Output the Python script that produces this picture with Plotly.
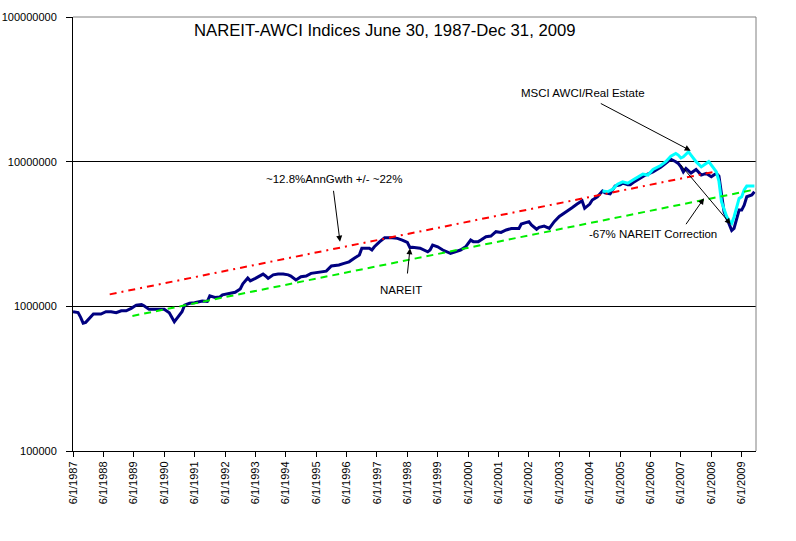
import plotly.graph_objects as go

# ---------------- data ----------------
nareit_dates = [
    "1987-06-01", "1987-07-01", "1987-08-01", "1987-09-01", "1987-10-01", "1987-11-01", "1987-12-01",
    "1988-02-01", "1988-05-01", "1988-07-01", "1988-09-01", "1988-11-01",
    "1989-01-01", "1989-03-01", "1989-05-01", "1989-07-01", "1989-09-01", "1989-10-01", "1989-12-01",
    "1990-03-01", "1990-06-01", "1990-08-01", "1990-10-01", "1990-11-01",
    "1991-01-01", "1991-02-01", "1991-04-01", "1991-06-01", "1991-09-01", "1991-11-01", "1991-12-01",
    "1992-02-01", "1992-04-01", "1992-05-01", "1992-08-01", "1992-10-01", "1992-12-01",
    "1993-01-01", "1993-03-01", "1993-04-01", "1993-06-01", "1993-09-01", "1993-10-01", "1993-11-01",
    "1994-01-01", "1994-03-01", "1994-05-01", "1994-07-01", "1994-08-01", "1994-10-01", "1994-12-01",
    "1995-02-01", "1995-04-01", "1995-08-01", "1995-10-01", "1995-12-01",
    "1996-03-01", "1996-05-01", "1996-07-01", "1996-09-01", "1996-11-01", "1996-12-01",
    "1997-03-01", "1997-04-01", "1997-05-01", "1997-07-01", "1997-09-01", "1997-12-01",
    "1998-02-01", "1998-04-01", "1998-06-01", "1998-07-01", "1998-08-01", "1998-11-01",
    "1999-02-01", "1999-03-01", "1999-04-01", "1999-06-01", "1999-08-01", "1999-11-01",
    "2000-01-01", "2000-03-01", "2000-05-01", "2000-07-01", "2000-08-01", "2000-10-01", "2000-11-01",
    "2001-01-01", "2001-03-01", "2001-05-01", "2001-07-01", "2001-09-01", "2001-11-01",
    "2002-02-01", "2002-03-01", "2002-06-01", "2002-07-01", "2002-09-01", "2002-10-01", "2002-12-01",
    "2003-02-01", "2003-04-01", "2003-06-01", "2003-09-01", "2003-11-01",
    "2004-01-01", "2004-03-01", "2004-04-01", "2004-06-01", "2004-07-01", "2004-09-01", "2004-11-01", "2004-12-01",
    "2005-02-01", "2005-03-01", "2005-04-01", "2005-06-01", "2005-07-01", "2005-09-01", "2005-10-01", "2005-11-01",
    "2006-02-01", "2006-04-01", "2006-07-01", "2006-10-01", "2006-12-01",
    "2007-02-01", "2007-04-01", "2007-05-01", "2007-06-01", "2007-07-01", "2007-08-01", "2007-10-01", "2007-12-01",
    "2008-02-01", "2008-04-01", "2008-06-01", "2008-07-01", "2008-08-01", "2008-09-01", "2008-10-01",
    "2008-11-01", "2008-12-01",
    "2009-01-01", "2009-02-01", "2009-03-01", "2009-04-01", "2009-05-01", "2009-06-01", "2009-07-01",
    "2009-08-01", "2009-10-01", "2009-11-01",
]
nareit_values = [
    918000, 915000, 905000, 840000, 765000, 775000, 813000,
    885000, 885000, 918000, 918000, 903000,
    932000, 932000, 968000, 1020000, 1030000, 1010000, 953000,
    953000, 953000, 903000, 783000, 826000,
    918000, 1020000, 1050000, 1060000, 1090000, 1080000, 1180000,
    1150000, 1160000, 1200000, 1230000, 1250000, 1320000,
    1430000, 1570000, 1500000, 1560000, 1670000, 1620000, 1560000,
    1650000, 1670000, 1670000, 1650000, 1620000, 1520000, 1600000,
    1620000, 1690000, 1730000, 1750000, 1900000,
    1930000, 1980000, 2030000, 2150000, 2260000, 2520000,
    2520000, 2450000, 2580000, 2790000, 2980000, 2980000,
    2950000, 2870000, 2770000, 2550000, 2560000, 2520000,
    2380000, 2450000, 2650000, 2580000, 2450000, 2320000,
    2380000, 2450000, 2580000, 2870000, 2800000, 2800000, 2870000,
    3030000, 3060000, 3280000, 3240000, 3370000, 3450000,
    3450000, 3710000, 3850000, 3650000, 3410000, 3520000, 3590000,
    3460000, 3850000, 4180000, 4510000, 4800000,
    5090000, 5370000, 4760000, 5090000, 5430000, 5720000, 6270000, 6080000,
    6000000, 6370000, 6780000, 6920000, 7100000, 6920000, 6920000, 7140000,
    7670000, 8080000, 8510000, 9140000, 9730000,
    10400000, 10000000, 9730000, 9200000, 8500000, 8980000, 8340000, 8840000,
    8080000, 8300000, 7880000, 8100000, 8300000, 7930000, 5800000,
    4500000, 4100000,
    3750000, 3350000, 3460000, 3990000, 4630000, 4630000, 5010000,
    5720000, 5880000, 6190000,
]

msci_dates = [
    "2004-11-01", "2005-01-01", "2005-03-01", "2005-05-01", "2005-07-01", "2005-09-01", "2005-11-01",
    "2006-01-01", "2006-03-01", "2006-05-01", "2006-07-01", "2006-10-01", "2006-12-01",
    "2007-02-01", "2007-04-01", "2007-05-01", "2007-06-01", "2007-07-01", "2007-09-01", "2007-10-01", "2007-12-01",
    "2008-02-01", "2008-04-01", "2008-05-01", "2008-07-01", "2008-08-01", "2008-09-01", "2008-10-01",
    "2008-11-01", "2008-12-01",
    "2009-01-01", "2009-02-01", "2009-03-01", "2009-04-01", "2009-05-01", "2009-06-01", "2009-07-01",
    "2009-08-01", "2009-09-01", "2009-10-01", "2009-11-01",
]
msci_values = [
    6270000, 6190000, 6430000, 6990000, 7250000, 7100000, 7480000,
    7880000, 8200000, 8080000, 8840000, 9400000, 10000000,
    10900000, 11400000, 11100000, 10600000, 10800000, 11700000, 11100000, 10000000,
    9200000, 9730000, 10000000, 9000000, 8500000, 7300000, 5300000,
    4700000, 4200000,
    3900000, 3750000, 4150000, 4850000, 5570000, 5720000, 6370000,
    6780000, 6780000, 6780000, 6780000,
]

upper_trend_dates = ["1988-08-15", "2008-07-01"]
upper_trend_values = [1210000, 8500000]

lower_trend_dates = ["1989-05-15", "2009-11-20"]
lower_trend_values = [858000, 6440000]

tick_years = list(range(1987, 2010))
tick_dates = [f"{y}-06-01" for y in tick_years]
tick_labels = [f"6/1/{y}" for y in tick_years]

y_tickvals = [100000, 1000000, 10000000, 100000000]
y_ticktext = ["100000", "1000000", "10000000", "100000000"]

# ---------------- figure ----------------
FONT = "Liberation Sans, Arial, sans-serif"

fig = go.Figure()
fig.add_trace(go.Scatter(x=nareit_dates, y=nareit_values, mode="lines",
                         line=dict(color="#000080", width=3), name="NAREIT"))
fig.add_trace(go.Scatter(x=msci_dates, y=msci_values, mode="lines",
                         line=dict(color="#00FFFF", width=3), name="MSCI AWCI/Real Estate"))
fig.add_trace(go.Scatter(x=upper_trend_dates, y=upper_trend_values, mode="lines",
                         line=dict(color="#FF0000", width=2, dash="7px,5px,2px,5px"), name="upper"))
fig.add_trace(go.Scatter(x=lower_trend_dates, y=lower_trend_values, mode="lines",
                         line=dict(color="#00EE00", width=2, dash="7px,5px"), name="lower"))

X0, X1, Y0, Y1 = 73, 756, 17, 451


def px(x):
    return (x - X0) / (X1 - X0)


def py(y):
    return (Y1 - y) / (Y1 - Y0)


annotations = []


def text_ann(text, x, y, size=11.5):
    annotations.append(dict(text=text, x=px(x), y=py(y), xref="paper", yref="paper",
                            showarrow=False, xanchor="center", yanchor="middle",
                            font=dict(family=FONT, size=size, color="black")))


def arrow_ann(hx, hy, tx, ty):
    annotations.append(dict(text="", x=px(hx), y=py(hy), xref="paper", yref="paper",
                            ax=tx - hx, ay=ty - hy, axref="pixel", ayref="pixel",
                            showarrow=True, arrowhead=2, arrowsize=1.2, arrowwidth=1,
                            arrowcolor="black", standoff=0, startstandoff=0))


text_ann("NAREIT-AWCI Indices June 30, 1987-Dec 31, 2009", 385, 31, size=16.7)
text_ann("~12.8%AnnGwth +/- ~22%", 334, 179.3)
text_ann("NAREIT", 401, 290)
text_ann("MSCI AWCI/Real Estate", 583.3, 93.3)
text_ann("-67% NAREIT Correction", 652.7, 234.3)

arrow_ann(340, 241.7, 333.3, 189.3)
arrow_ann(410, 248.3, 407.3, 275)
arrow_ann(690.7, 150.7, 599.3, 102.7)
arrow_ann(704, 198.3, 685, 225.7)
arrow_ann(730.7, 224.3, 679.3, 163.3)

fig.update_layout(
    width=796, height=541,
    margin=dict(l=X0, r=796 - X1, t=Y0, b=541 - Y1, pad=0, autoexpand=False),
    paper_bgcolor="white", plot_bgcolor="white",
    showlegend=False,
    font=dict(family=FONT, size=11, color="black"),
    annotations=annotations,
    shapes=[
        dict(type="line", xref="paper", yref="paper", x0=0, x1=1, y0=1, y1=1,
             line=dict(color="#808080", width=1), layer="above"),
        dict(type="line", xref="paper", yref="paper", x0=1, x1=1, y0=0, y1=1,
             line=dict(color="#808080", width=1), layer="above"),
    ],
)

fig.update_xaxes(
    type="date", range=["1987-06-01", "2009-11-20"], automargin=False,
    tickmode="array", tickvals=tick_dates, ticktext=tick_labels,
    tickangle=-90, ticks="outside", ticklen=5, tickcolor="black",
    showline=True, linecolor="black", linewidth=1,
    showgrid=False, zeroline=False,
    tickfont=dict(family=FONT, size=11, color="black"),
)
fig.update_yaxes(
    type="log", range=[5, 8], automargin=False,
    tickmode="array", tickvals=y_tickvals, ticktext=y_ticktext,
    ticks="outside", ticklen=6, tickcolor="black",
    showline=True, linecolor="black", linewidth=1,
    showgrid=True, gridcolor="black", gridwidth=1, zeroline=False,
    ticklabelstandoff=7,
    tickfont=dict(family=FONT, size=11, color="black"),
)

fig.write_html("out.html", config={"displayModeBar": False},
               post_script="document.body.style.margin='0';")
